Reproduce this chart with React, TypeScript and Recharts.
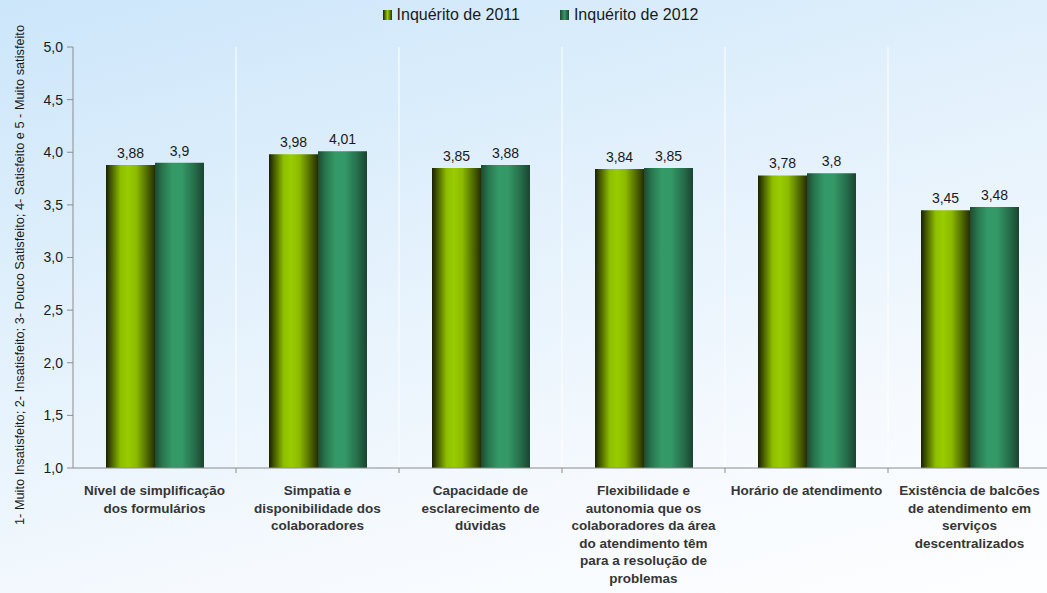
import React from "react";
import { BarChart, Bar, XAxis, YAxis, Legend, LabelList } from "recharts";

const categories = [
  "Nível de simplificação\ndos formulários",
  "Simpatia e\ndisponibilidade dos\ncolaboradores",
  "Capacidade de\nesclarecimento de\ndúvidas",
  "Flexibilidade e\nautonomia que os\ncolaboradores da área\ndo atendimento têm\npara a resolução de\nproblemas",
  "Horário de atendimento",
  "Existência de balcões\nde atendimento em\nserviços\ndescentralizados",
];
const series2011 = [3.88, 3.98, 3.85, 3.84, 3.78, 3.45];
const series2012 = [3.9, 4.01, 3.88, 3.85, 3.8, 3.48];
const yTicks = [1, 1.5, 2, 2.5, 3, 3.5, 4, 4.5, 5];
const seriesNames = ["Inquérito de 2011", "Inquérito de 2012"];
const yLabel =
  "1- Muito Insatisfeito; 2- Insatisfeito; 3- Pouco Satisfeito; 4- Satisfeito e 5 -  Muito satisfeito";

const data = categories.map((c, i) => ({
  name: c,
  a: series2011[i],
  b: series2012[i],
}));

const FONT = "'Liberation Sans', Arial, sans-serif";
const PLOT_H = 421;
const W = 1047;
const H = 593;

const fmt = (v: any) => String(v).replace(".", ",");

const XTick = (props: any) => {
  const { x, y, payload, index } = props;
  const half = payload && payload.offset ? payload.offset : 81.5;
  const lines = String(payload.value).split("\n");
  const bx = x + half;
  const isLast = index === categories.length - 1;
  return (
    <g>
      {!isLast && (
        <>
          <line x1={bx} x2={bx} y1={y - PLOT_H} y2={y - 1} stroke="#ffffff" strokeWidth={1} />
          <line x1={bx} x2={bx} y1={y} y2={y + 5} stroke="#8c8c8c" strokeWidth={1} />
        </>
      )}
      <text
        x={x}
        y={y + 27}
        textAnchor="middle"
        fontFamily={FONT}
        fontSize={13.5}
        fontWeight="bold"
        fill="#353535"
      >
        {lines.map((l, i) => (
          <tspan key={i} x={x} dy={i === 0 ? 0 : 17.6}>
            {l}
          </tspan>
        ))}
      </text>
    </g>
  );
};

const LegendContent = () => (
  <div
    style={{
      display: "flex",
      justifyContent: "center",
      alignItems: "center",
      height: 30,
      fontFamily: FONT,
      fontSize: 16,
      color: "#1a1a1a",
      paddingLeft: 30,
    }}
  >
    {seriesNames.map((n, i) => (
      <div key={n} style={{ display: "flex", alignItems: "center", marginRight: i === 0 ? 40 : 0 }}>
        <div
          style={{
            width: 9,
            height: 10,
            marginRight: 5,
            background:
              i === 0
                ? "linear-gradient(to right, #1c2200, #99cc00 50%, #2a3300)"
                : "linear-gradient(to right, #1f4a33, #339966 50%, #1b4631)",
          }}
        />
        <span>{n}</span>
      </div>
    ))}
  </div>
);

const YLabel = () => (
  <text
    x={20}
    y={275}
    transform="rotate(-90 20 275)"
    textAnchor="middle"
    dominantBaseline="central"
    fontFamily={FONT}
    fontSize={12}
    textLength={500}
    lengthAdjust="spacingAndGlyphs"
    fill="#1a1a1a"
  >
    {yLabel}
  </text>
);

export default function App() {
  return (
    <div
      style={{
        position: "absolute",
        left: 0,
        top: 0,
        width: W,
        height: H,
        background: "linear-gradient(165deg, #cce6fa 0%, #e3f1fc 40%, #f6fafe 75%, #fdfeff 100%)",
        overflow: "hidden",
      }}
    >
      <BarChart
        width={W}
        height={H}
        data={data}
        margin={{ top: 17, right: -4, bottom: 0, left: 0 }}
        barCategoryGap={33}
        barGap={0}
      >
        <defs>
          <linearGradient id="g2011" x1="0" y1="0" x2="1" y2="0">
            <stop offset="0%" stopColor="#1a1f00" />
            <stop offset="12%" stopColor="#4a6200" />
            <stop offset="30%" stopColor="#8fbf00" />
            <stop offset="45%" stopColor="#99cc00" />
            <stop offset="62%" stopColor="#8cba00" />
            <stop offset="85%" stopColor="#4d6600" />
            <stop offset="100%" stopColor="#252d00" />
          </linearGradient>
          <linearGradient id="g2012" x1="0" y1="0" x2="1" y2="0">
            <stop offset="0%" stopColor="#1d4a32" />
            <stop offset="15%" stopColor="#28754d" />
            <stop offset="35%" stopColor="#339966" />
            <stop offset="55%" stopColor="#339966" />
            <stop offset="80%" stopColor="#266e4b" />
            <stop offset="100%" stopColor="#1a4430" />
          </linearGradient>
        </defs>
        <Legend verticalAlign="top" align="center" content={<LegendContent />} wrapperStyle={{ top: 0 }} />
        <XAxis
          dataKey="name"
          interval={0}
          height={125}
          tick={<XTick />}
          tickLine={false}
          tickSize={0}
          tickMargin={0}
          axisLine={{ stroke: "#8c8c8c" }}
        />
        <YAxis
          type="number"
          domain={[1, 5]}
          ticks={yTicks}
          width={73}
          allowDataOverflow
          tickFormatter={(v: number) => v.toFixed(1).replace(".", ",")}
          tick={{ fontFamily: FONT, fontSize: 14, fill: "#1a1a1a" }}
          tickSize={6}
          tickMargin={4}
          tickLine={{ stroke: "#8c8c8c" }}
          axisLine={{ stroke: "#8c8c8c" }}
          label={<YLabel />}
        />
        <Bar dataKey="a" name={seriesNames[0]} fill="url(#g2011)" isAnimationActive={false}>
          <LabelList
            dataKey="a"
            position="top"
            offset={7}
            formatter={fmt}
            style={{ fontFamily: FONT, fontSize: 14, fill: "#1a1a1a" }}
          />
        </Bar>
        <Bar dataKey="b" name={seriesNames[1]} fill="url(#g2012)" isAnimationActive={false}>
          <LabelList
            dataKey="b"
            position="top"
            offset={7}
            formatter={fmt}
            style={{ fontFamily: FONT, fontSize: 14, fill: "#1a1a1a" }}
          />
        </Bar>
      </BarChart>
    </div>
  );
}
